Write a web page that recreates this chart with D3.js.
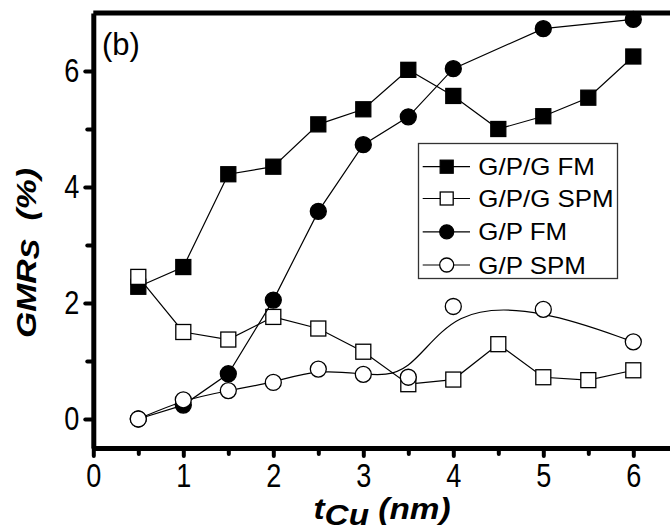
<!DOCTYPE html>
<html><head><meta charset="utf-8">
<script src="https://cdn.jsdelivr.net/npm/d3@7"></script>
<style>body{margin:0;background:#fff}svg{display:block}</style>
</head><body>
<svg id="c" width="670" height="530"></svg>
<script>
const tCu = [0.5,1,1.5,2,2.5,3,3.5,4,4.5,5,5.5,6];
const gpgFM = [2.28,2.62,4.22,4.35,5.08,5.34,6.02,5.57,5.0,5.22,5.54,6.25];
const gpgSPM = [2.45,1.5,1.37,1.76,1.56,1.16,0.6,0.68,1.29,0.72,0.67,0.84];
const tCuGP = [0.5,1,1.5,2,2.5,3,3.5,4,5,6];
const gpFM = [0.0,0.24,0.78,2.05,3.58,4.73,5.21,6.04,6.73,6.89];
const gpSPM = [0.0,0.33,0.49,0.63,0.86,0.77,0.72,1.94,1.89,1.33];
const xTicks = [0,1,2,3,4,5,6];
const xMinor = [0.5,1.5,2.5,3.5,4.5,5.5];
const yTicks = [0,2,4,6];
const yMinor = [1,3,5];
const seriesNames = ["G/P/G FM","G/P/G SPM","G/P FM","G/P SPM"];

const svg = d3.select("#c");
const x = d3.scaleLinear().domain([0,6.5]).range([93.3,678.3]);
const y = d3.scaleLinear().domain([-0.5,7]).range([448,13]);
const labFont = "'Liberation Sans',Arial,sans-serif";

function narrow(sel, f){
  sel.each(function(){
    const w = this.getComputedTextLength();
    d3.select(this).attr("textLength", w*f).attr("lengthAdjust","spacingAndGlyphs");
  });
}

// frame
svg.append("line").attr("x1",x(0)).attr("x2",670).attr("y1",y(7)).attr("y2",y(7))
  .attr("stroke","#000").attr("stroke-width",5);

// bottom axis
const xa = svg.append("g").attr("transform",`translate(0,${y(-0.5)})`)
  .call(d3.axisBottom(x).tickValues(xTicks).tickSize(8).tickSizeOuter(0).tickPadding(8).tickFormat(d3.format("d")));
xa.select(".domain").attr("stroke-width",5);
xa.selectAll(".tick line").attr("stroke-width",4).attr("stroke-linecap","round");
xa.selectAll(".tick text").attr("font-family",labFont).attr("font-size",33).attr("fill","#000").call(narrow,0.82);
const xm = svg.append("g").attr("transform",`translate(0,${y(-0.5)})`)
  .call(d3.axisBottom(x).tickValues(xMinor).tickSize(6).tickFormat(""));
xm.select(".domain").remove();
xm.selectAll(".tick line").attr("stroke-width",4).attr("stroke-linecap","round");

// left axis
const ya = svg.append("g").attr("transform",`translate(${x(0)},0)`)
  .call(d3.axisLeft(y).tickValues(yTicks).tickSize(8).tickSizeOuter(0).tickPadding(6).tickFormat(d3.format("d")));
ya.select(".domain").attr("stroke-width",5);
ya.selectAll(".tick line").attr("stroke-width",4).attr("stroke-linecap","round");
ya.selectAll(".tick text").attr("font-family",labFont).attr("font-size",33).attr("fill","#000").call(narrow,0.82);
const ym = svg.append("g").attr("transform",`translate(${x(0)},0)`)
  .call(d3.axisLeft(y).tickValues(yMinor).tickSize(6).tickFormat(""));
ym.select(".domain").remove();
ym.selectAll(".tick line").attr("stroke-width",4).attr("stroke-linecap","round");

// series
const series = [
  {xs:tCu, ys:gpgFM, shape:"square", fill:"#000", curve:d3.curveLinear},
  {xs:tCu, ys:gpgSPM, shape:"square", fill:"#fff", curve:d3.curveLinear},
  {xs:tCuGP, ys:gpFM, shape:"circle", fill:"#000", curve:d3.curveLinear},
  {xs:tCuGP, ys:gpSPM, shape:"circle", fill:"#fff", curve:d3.curveBasis},
];
function marker(g, shape, fill, cx, cy, s){
  if(shape==="square"){
    g.append("rect").attr("x",cx-s/2).attr("y",cy-s/2).attr("width",s).attr("height",s)
      .attr("fill",fill).attr("stroke","#000").attr("stroke-width",1.3);
  } else {
    g.append("circle").attr("cx",cx).attr("cy",cy).attr("r",s/2+0.5)
      .attr("fill",fill).attr("stroke","#000").attr("stroke-width",1.3);
  }
}
const plot = svg.append("g");
series.forEach(s=>{
  const pts = s.xs.map((v,i)=>[v,s.ys[i]]);
  plot.append("path").datum(pts)
    .attr("d",d3.line().x(d=>x(d[0])).y(d=>y(d[1])).curve(s.curve))
    .attr("fill","none").attr("stroke","#000").attr("stroke-width",1.2);
  pts.forEach(p=>marker(plot,s.shape,s.fill,x(p[0]),y(p[1]),15));
});

// legend
const lg = svg.append("g");
lg.append("rect").attr("x",418.5).attr("y",143.5).attr("width",199).attr("height",135)
  .attr("fill","#fff").attr("stroke","#333").attr("stroke-width",1.3);
const legY = [166.7,198.5,231.8,265];
series.forEach((s,i)=>{
  lg.append("line").attr("x1",422.7).attr("x2",470).attr("y1",legY[i]).attr("y2",legY[i])
    .attr("stroke","#000").attr("stroke-width",1.2);
  marker(lg,s.shape,s.fill,446.7,legY[i],13);
  const t = lg.append("text").attr("x",478.3).attr("y",legY[i]+8.5)
    .attr("font-family","'Liberation Sans',Arial,sans-serif").attr("font-size",24).text(seriesNames[i]);
  const w = t.node().getComputedTextLength();
  t.attr("textLength",w*1.08).attr("lengthAdjust","spacingAndGlyphs");
});

// (b)
svg.append("text").attr("x",102).attr("y",55).attr("font-family","'Liberation Sans',Arial,sans-serif")
  .attr("font-size",31).text("(b)");

// y title
const yt = svg.append("text").attr("transform","translate(36,253) rotate(-90)")
  .attr("text-anchor","middle").attr("font-family","'Liberation Sans',Arial,sans-serif")
  .attr("font-weight","bold").attr("font-style","italic").attr("font-size",28)
  .attr("textLength",170).attr("lengthAdjust","spacingAndGlyphs");
yt.append("tspan").text("GMR");
yt.append("tspan").attr("font-size",25).attr("dy",3).text("S");
yt.append("tspan").attr("dy",-3).text("\u00a0\u00a0(%)");

// x title
const xt = svg.append("text").attr("x",382).attr("y",519)
  .attr("text-anchor","middle").attr("font-family","'Liberation Sans',Arial,sans-serif")
  .attr("font-weight","bold").attr("font-style","italic").attr("font-size",29)
  .attr("textLength",137).attr("lengthAdjust","spacingAndGlyphs");
xt.append("tspan").text("t");
xt.append("tspan").attr("dy",6).text("Cu");
xt.append("tspan").attr("dy",-6).text(" (nm)");
</script>
</body></html>
